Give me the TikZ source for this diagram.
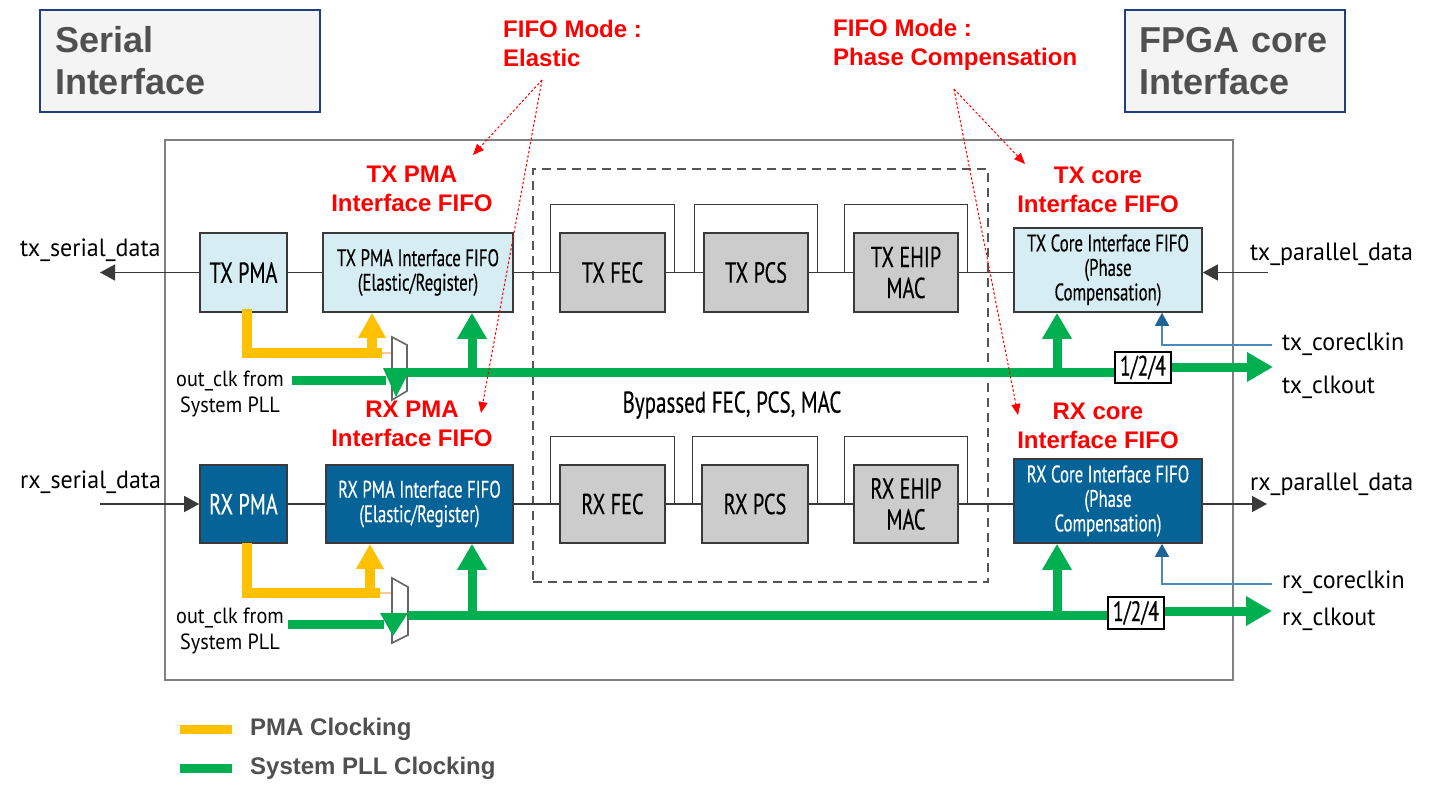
\documentclass[tikz,border=0pt]{standalone}
\usepackage{fontspec}
\setmainfont{Liberation Sans}
\newfontfamily\condA[FakeStretch=0.7,FakeBold=0.3]{PT Sans}
\newfontfamily\condS[FakeStretch=0.96]{PT Sans}
\newfontfamily\condO[FakeStretch=0.92]{PT Sans}
\usetikzlibrary{arrows.meta,calc}
\definecolor{lblue}{HTML}{D6EDF3}
\definecolor{dblue}{HTML}{066398}
\definecolor{gblk}{HTML}{CCCCCC}
\definecolor{bdr}{HTML}{3A3A3A}
\definecolor{gr}{HTML}{00B050}
\definecolor{orng}{HTML}{FFC000}
\definecolor{lorng}{HTML}{F8C8A0}
\definecolor{clkb}{HTML}{4A8BBE}
\definecolor{clkh}{HTML}{1F6496}
\definecolor{titgray}{HTML}{505050}
\definecolor{titblue}{HTML}{1F3F7F}
\definecolor{titfill}{HTML}{F4F4F4}
\definecolor{redc}{HTML}{FF0000}
\definecolor{boxgray}{HTML}{808080}
\definecolor{dashgray}{HTML}{555555}
\tikzset{
  blk/.style={draw=bdr, line width=1.6pt, inner sep=0pt, align=center},
  lb/.style={blk, fill=lblue},
  db/.style={blk, fill=dblue, text=white},
  gb/.style={blk, fill=gblk},
  bigf/.style={font=\condA\fontsize{29}{31}\selectfont},
  smf/.style={font=\condA\fontsize{24}{24.5}\selectfont},
  sig/.style={font=\condS\fontsize{25}{26}\selectfont, inner sep=0pt},
  osig/.style={font=\condO\fontsize{22}{26}\selectfont, inner sep=0pt, align=center},
  rlab/.style={text=redc, font=\bfseries\fontsize{24}{29}\selectfont, align=center, inner sep=0pt},
  ttl/.style={draw=titblue, line width=2pt, fill=titfill, text=titgray, align=left,
     font=\bfseries\fontsize{36}{42}\selectfont, minimum height=102pt},
  thinln/.style={draw=bdr, line width=1.3pt},
  dataarrow/.style={thinln, -{Triangle[length=15pt,width=16pt]}},
  grn/.style={draw=gr, line width=9pt},
  grarr/.style={grn, -{Triangle[length=26pt,width=28pt]}},
  orl/.style={draw=orng, line width=10pt},
  orarr/.style={orl, -{Triangle[length=25pt,width=26pt]}},
  clkln/.style={draw=clkb, line width=1.5pt, -{Triangle[length=13pt,width=14pt,color=clkh]}},
  redarr/.style={draw=redc, line width=1pt, dash pattern=on 2.5pt off 2pt, -{Triangle[length=11pt,width=9pt]}},
  muxs/.style={draw=boxgray!80!black, line width=1.6pt, fill=white},
  divbox/.style={draw=black, line width=1.3pt, fill=white, inner sep=0pt, font=\condA\fontsize{28}{29}\selectfont, minimum width=56pt, minimum height=31pt},
}
\begin{document}
\begin{tikzpicture}[x=1pt,y=-1pt]
\useasboundingbox (0,0) rectangle (1430,790);
\fill[white] (0,0) rectangle (1430,790);

% title boxes
\node[ttl, text width=250pt, inner xsep=15pt] (sertitle) at (180,61) {Serial\\Interface};
\node[ttl, text width=200pt, inner xsep=10pt] (fpgatitle) at (1235,61) {\hspace*{4pt}FPGA core\\\hspace*{4pt}Interface};

% main and bypass boxes
\node[draw=boxgray, line width=2pt, minimum width=1068pt, minimum height=540pt, inner sep=0pt] (mainbox) at (699,410) {};
\node[draw=dashgray, line width=1.8pt, dash pattern=on 9pt off 6pt, minimum width=455pt, minimum height=413pt, inner sep=0pt] (bypbox) at (760.5,375.5) {};

% TX blocks
\node[lb, bigf, minimum width=87pt, minimum height=79pt] (txpma) at (243.5,272.5) {TX PMA};
\node[lb, smf, minimum width=190pt, minimum height=79pt] (txfifo) at (418,272.5) {TX PMA Interface FIFO\\(Elastic/Register)};
\node[gb, bigf, minimum width=105pt, minimum height=79pt] (txfec) at (612.5,272.5) {TX FEC};
\node[gb, bigf, minimum width=104pt, minimum height=79pt] (txpcs) at (756,272.5) {TX PCS};
\node[gb, bigf, minimum width=104pt, minimum height=79pt] (txmac) at (906,272.5) {TX EHIP\\MAC};
\node[lb, smf, minimum width=188pt, minimum height=84pt] (txcore) at (1108,270) {TX Core Interface FIFO\\(Phase\\Compensation)};

% RX blocks
\node[db, bigf, minimum width=87pt, minimum height=78pt] (rxpma) at (243.5,504) {RX PMA};
\node[db, smf, minimum width=187pt, minimum height=78pt] (rxfifo) at (419.5,504) {RX PMA Interface FIFO\\(Elastic/Register)};
\node[gb, bigf, minimum width=105pt, minimum height=78pt] (rxfec) at (612.5,504) {RX FEC};
\node[gb, bigf, minimum width=106pt, minimum height=78pt] (rxpcs) at (755,504) {RX PCS};
\node[gb, bigf, minimum width=104pt, minimum height=78pt] (rxmac) at (906,504) {RX EHIP\\MAC};
\node[db, smf, minimum width=188pt, minimum height=84pt] (rxcore) at (1108,501) {RX Core Interface FIFO\\(Phase\\Compensation)};

\node[font=\condA\fontsize{30}{31}\selectfont, inner sep=0pt] (byptext) at (732,405) {Bypassed FEC, PCS, MAC};

% bypass brackets
\foreach \b in {txfec,txpcs,txmac,rxfec,rxpcs,rxmac}{
  \draw[thinln] ($(\b.west)+(-9,0)$) |- ($(\b.north)+(0,-28)$) -| ($(\b.east)+(9,0)$);
}

% TX data path
\coordinate (txsdend) at (100,272.5);
\coordinate (txpdstart) at (1268,272.5);
\draw[dataarrow] (txpma.west) -- (txsdend);
\draw[thinln] (txpma) -- (txfifo);
\draw[thinln] (txfifo) -- (txfec);
\draw[thinln] (txfec) -- (txpcs);
\draw[thinln] (txpcs) -- (txmac);
\draw[thinln] (txmac.east) -- (txmac.east -| txcore.west);
\draw[dataarrow] (txpdstart) -- (txpdstart -| txcore.east);

% RX data path
\coordinate (rxsdstart) at (100,504);
\coordinate (rxpdend) at (1267,504);
\draw[dataarrow] (rxsdstart) -- (rxpma.west);
\draw[thinln] (rxpma) -- (rxfifo);
\draw[thinln] (rxfifo) -- (rxfec);
\draw[thinln] (rxfec) -- (rxpcs);
\draw[thinln] (rxpcs) -- (rxmac);
\draw[thinln] (rxmac.east) -- (rxmac.east -| rxcore.west);
\draw[dataarrow] (rxmac.east -| rxcore.east) -- (rxpdend);

% signal labels
\node[sig, anchor=base west] (txsdt) at (20,256) {tx\_serial\_data};
\node[sig, anchor=base west] (rxsdt) at (20,488) {rx\_serial\_data};
\node[sig, anchor=base west] (txpdt) at (1250,260) {tx\_parallel\_data};
\node[sig, anchor=base west] (rxpdt) at (1250,490) {rx\_parallel\_data};
\node[sig, anchor=base west] (txckt) at (1282,350) {tx\_coreclkin};
\node[sig, anchor=base west] (txcot) at (1282,393) {tx\_clkout};
\node[sig, anchor=base west] (rxckt) at (1282,588) {rx\_coreclkin};
\node[sig, anchor=base west] (rxcot) at (1282,625) {rx\_clkout};
\node[osig] (txpllt) at (230,394) {out\_clk from\\System PLL};
\node[osig] (rxpllt) at (230,631) {out\_clk from\\System PLL};

% ---------- TX clocking ----------
\coordinate (txo1) at (247,309);
\coordinate (txo2) at (382,353);
\coordinate (txo3) at (372,358);
\draw[orl] (txo1) |- (txo2);
\draw[orarr] (txo3) -- (txo3 |- txfifo.south);
\draw[draw=lorng, line width=1.5pt] (txo2) -- ++(11,0);
\coordinate (txpll) at (292,380);
\coordinate (txmuxin) at (386,380);
\draw[grn] (txpll) -- (txmuxin);
\draw[muxs] (392,337) -- (407,345) -- (407,391) -- (392,400) -- cycle;
\fill[gr] (383,368) -- (411,368) -- (396,397) -- cycle;
\coordinate (txmuxout) at (408,372);
\node[divbox] (txdiv) at (1143,367.5) {1/2/4};
\draw[grn] (txmuxout) -- (txmuxout -| txdiv.west);
\coordinate (txclkend) at (1273,367);
\draw[grarr] (txdiv.east |- txclkend) -- (txclkend);
\coordinate (txgtap) at (472,376);
\coordinate (txctap) at (1057,376);
\draw[grarr] (txgtap) -- (txgtap |- txfifo.south);
\draw[grarr] (txctap) -- (txctap |- txcore.south);
\coordinate (txcki) at (1272,345);
\draw[clkln] (txcki) -| ($(txcore.south)+(54,0)$);

% ---------- RX clocking ----------
\coordinate (rxo1) at (247,543);
\coordinate (rxo2) at (380,593);
\coordinate (rxo3) at (370,598);
\draw[orl] (rxo1) |- (rxo2);
\draw[orarr] (rxo3) -- (rxo3 |- rxfifo.south);
\draw[draw=lorng, line width=1.5pt] (rxo2) -- ++(12,0);
\coordinate (rxpll) at (288,624);
\coordinate (rxmuxin) at (384,624);
\draw[grn] (rxpll) -- (rxmuxin);
\draw[muxs] (392,578) -- (408,587) -- (408,635) -- (392,643) -- cycle;
\fill[gr] (380,613) -- (408,613) -- (393,636) -- cycle;
\coordinate (rxmuxout) at (408,615);
\node[divbox, minimum height=32pt] (rxdiv) at (1136,613) {1/2/4};
\draw[grn] (rxmuxout) -- (rxmuxout -| rxdiv.west);
\coordinate (rxclkend) at (1272,611);
\draw[grarr] (rxdiv.east |- rxclkend) -- (rxclkend);
\coordinate (rxgtap) at (472,619);
\coordinate (rxctap) at (1057,619);
\draw[grarr] (rxgtap) -- (rxgtap |- rxfifo.south);
\draw[grarr] (rxctap) -- (rxctap |- rxcore.south);
\coordinate (rxcki) at (1272,584);
\draw[clkln] (rxcki) -| ($(rxcore.south)+(54,0)$);

% ---------- red annotations ----------
\node[rlab, anchor=west, align=left] (modeel) at (503,43) {FIFO Mode :\\Elastic};
\node[rlab, anchor=west, align=left] (modeph) at (833,45) {FIFO Mode :\\Phase Compensation};
\node[rlab] (txpmal) at (412,189) {TX PMA\\Interface FIFO};
\node[rlab] (rxpmal) at (412,424) {RX PMA\\Interface FIFO};
\node[rlab] (txcorel) at (1098,190) {TX core\\Interface FIFO};
\node[rlab] (rxcorel) at (1098,426) {RX core\\Interface FIFO};
\coordinate (elsrc) at (542,80);
\coordinate (elt1) at (473,155);
\coordinate (elt2) at (481,413);
\coordinate (phsrc) at (954,89);
\coordinate (pht1) at (1025,164);
\coordinate (pht2) at (1018,415);
\draw[redarr] (elsrc) -- (elt1);
\draw[redarr] (elsrc) -- (elt2);
\draw[redarr] (phsrc) -- (pht1);
\draw[redarr] (phsrc) -- (pht2);

% ---------- legend ----------
\coordinate (lg1a) at (180,729);
\coordinate (lg1b) at (232,729);
\coordinate (lg2a) at (180,768);
\coordinate (lg2b) at (232,768);
\draw[draw=orng, line width=9pt] (lg1a) -- (lg1b);
\draw[draw=gr, line width=9pt] (lg2a) -- (lg2b);
\node[anchor=west, inner sep=0pt, text=titgray, font=\bfseries\fontsize{24}{28}\selectfont] (lgt1) at (250,729) {PMA Clocking};
\node[anchor=west, inner sep=0pt, text=titgray, font=\bfseries\fontsize{24}{28}\selectfont] (lgt2) at (250,768) {System PLL Clocking};
\end{tikzpicture}
\end{document}
